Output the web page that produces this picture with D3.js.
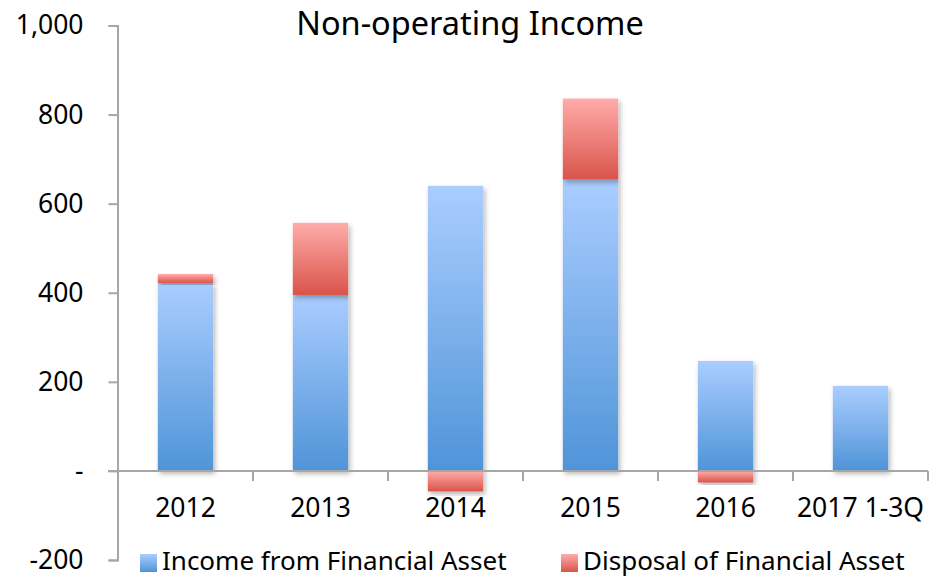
<!DOCTYPE html>
<html>
<head>
<meta charset="utf-8">
<script src="https://cdn.jsdelivr.net/npm/d3@7"></script>
<style>
  body { margin: 0; background: #fff; }
  text { font-family: "Noto Sans", sans-serif; fill: #000; }
</style>
</head>
<body>
<div id="chart"></div>
<script>
const categories = ['2012', '2013', '2014', '2015', '2016', '2017 1-3Q']
const incomeValues = [422, 395, 640, 654, 247, 191]
const disposalValues = [20, 162, -46, 182, -26, 0]
const yTicks = [-200, 0, 200, 400, 600, 800, 1000]
const seriesNames = ['Income from Financial Asset', 'Disposal of Financial Asset']

const WIDTH = 937
const HEIGHT = 578

const svg = d3.select('#chart')
  .append('svg')
    .attr('width', WIDTH)
    .attr('height', HEIGHT)

const defs = svg.append('defs')

const gradient = (id, top, bottom) => {
  const g = defs.append('linearGradient')
    .attr('id', id)
    .attr('x1', 0).attr('y1', 0)
    .attr('x2', 0).attr('y2', 1)
  g.append('stop').attr('offset', '0%').attr('stop-color', top)
  g.append('stop').attr('offset', '100%').attr('stop-color', bottom)
}
gradient('blueGrad', '#aacdff', '#4f94d8')
gradient('redGrad', '#ffacaa', '#d9544a')

const shadow = defs.append('filter')
  .attr('id', 'shadow')
  .attr('x', '-20%').attr('y', '-10%')
  .attr('width', '150%').attr('height', '130%')
shadow.append('feDropShadow')
  .attr('dx', 2).attr('dy', 3)
  .attr('stdDeviation', 2.5)
  .attr('flood-color', '#000')
  .attr('flood-opacity', 0.28)

const x = d3.scaleBand()
  .domain(categories)
  .range([118, 928])
  .paddingInner(0.59)
  .paddingOuter(0.295)

const y = d3.scaleLinear()
  .domain([-200, 1000])
  .range([560, 25.5])

// stack: positives pile up, negatives go below zero
const rows = categories.map((c, i) => {
  const inc = incomeValues[i]
  const dis = disposalValues[i]
  const segs = [{ key: 'inc', cat: c, y0: 0, y1: inc }]
  if (dis > 0) segs.push({ key: 'dis', cat: c, y0: inc, y1: inc + dis })
  else if (dis < 0) segs.push({ key: 'dis', cat: c, y0: 0, y1: dis })
  return segs
}).flat()

const gridColor = '#a6a6a6'

// y axis
const yAxis = svg.append('g')
  .attr('transform', 'translate(117.5,0)')
  .call(
    d3.axisLeft(y)
      .tickValues(yTicks)
      .tickSize(9)
      .tickPadding(25)
      .tickFormat(d => d === 0 ? '-' : d3.format(',')(d).replace('\u2212', '-'))
  )
yAxis.select('.domain').attr('stroke', gridColor).attr('stroke-width', 2)
yAxis.selectAll('.tick line').attr('stroke', gridColor).attr('stroke-width', 2)
yAxis.selectAll('.tick text')
  .style('font-size', '26.5px')
  .attr('dx', 0)

// bars
svg.append('g')
  .selectAll('rect')
  .data(rows)
  .join('rect')
    .attr('x', d => x(d.cat))
    .attr('width', x.bandwidth())
    .attr('y', d => y(Math.max(d.y0, d.y1)))
    .attr('height', d => Math.abs(y(d.y0) - y(d.y1)))
    .attr('fill', d => d.key === 'inc' ? 'url(#blueGrad)' : 'url(#redGrad)')
    .attr('filter', 'url(#shadow)')

// x axis at zero
const xAxis = svg.append('g')
  .attr('transform', `translate(0,${y(0)})`)
xAxis.append('line')
  .attr('x1', 108).attr('x2', 928)
  .attr('stroke', gridColor).attr('stroke-width', 2)
const bounds = categories.map(c => x(c) - x.step() * x.paddingInner() / 2)
bounds.push(928)
xAxis.selectAll('line.tk')
  .data(bounds)
  .join('line')
    .attr('class', 'tk')
    .attr('x1', d => d).attr('x2', d => d)
    .attr('y1', 0).attr('y2', 10)
    .attr('stroke', gridColor).attr('stroke-width', 2)
xAxis.selectAll('text')
  .data(categories)
  .join('text')
    .attr('x', d => x(d) + x.bandwidth() / 2)
    .attr('y', 46)
    .attr('text-anchor', 'middle')
    .style('font-size', '26.5px')
    .text(d => d)

// title
svg.append('text')
  .attr('x', 470)
  .attr('y', 35)
  .attr('text-anchor', 'middle')
  .style('font-size', '32.5px')
  .text('Non-operating Income')

// legend
const legendX = [140, 561]
const legend = svg.append('g')
  .selectAll('g')
  .data(seriesNames)
  .join('g')
    .attr('transform', (d, i) => `translate(${legendX[i]},554)`)
legend.append('rect')
  .attr('width', 17).attr('height', 18)
  .attr('fill', (d, i) => i === 0 ? 'url(#blueGrad)' : 'url(#redGrad)')
legend.append('text')
  .attr('x', 22)
  .attr('y', 16)
  .style('font-size', '26px')
  .text(d => d)
</script>
</body>
</html>
